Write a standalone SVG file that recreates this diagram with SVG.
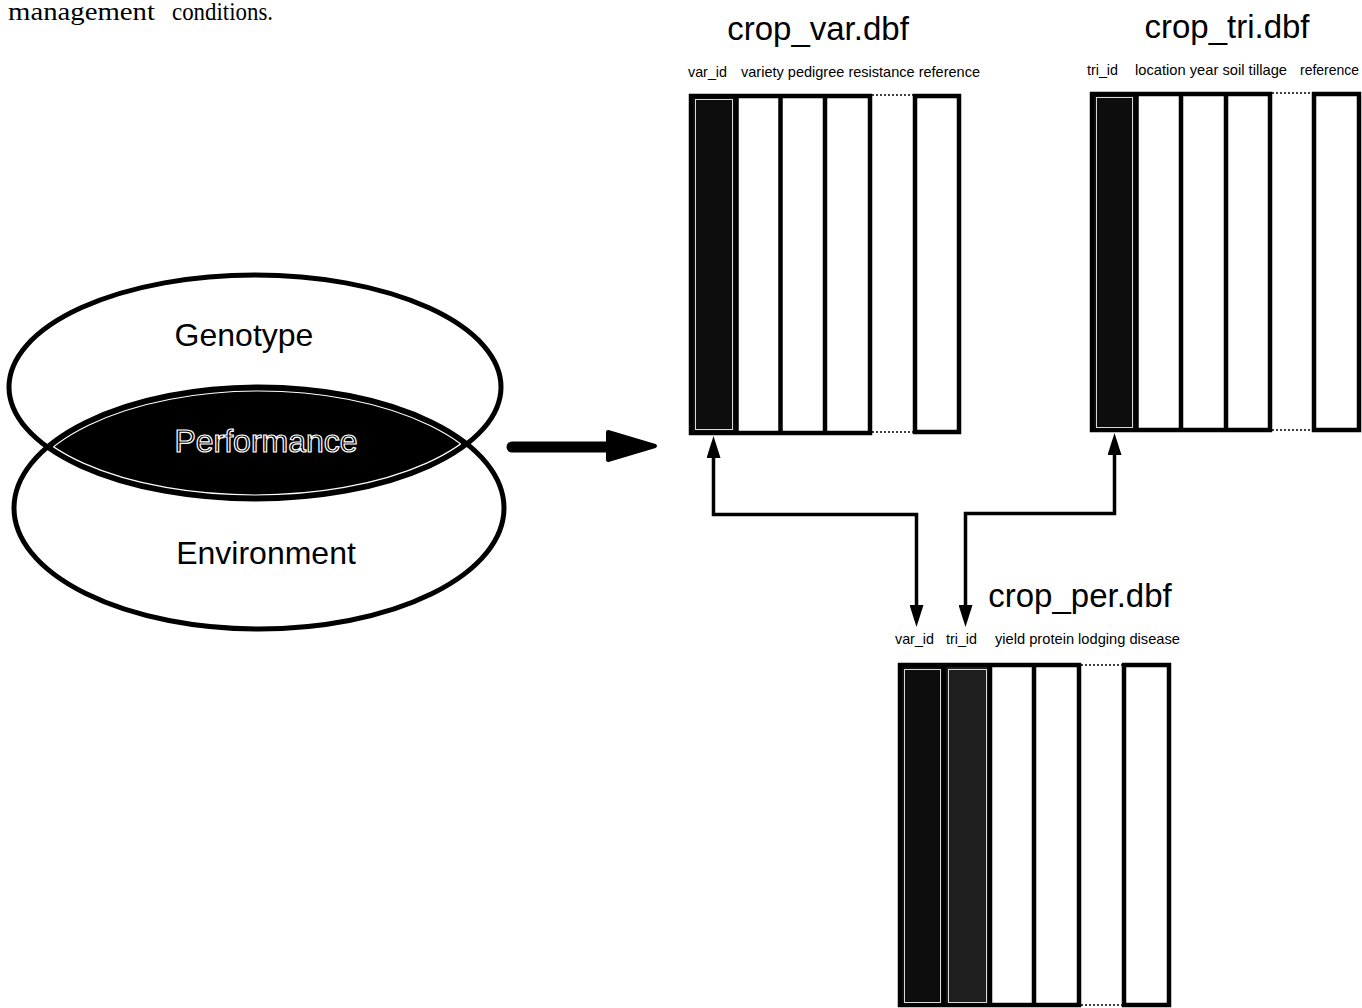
<svg xmlns="http://www.w3.org/2000/svg" width="1362" height="1008" viewBox="0 0 1362 1008">
<style>
.cap{font-family:"Liberation Serif","Times New Roman",serif;font-size:25px;fill:#000}
.big{font-family:"Liberation Sans",Arial,sans-serif;font-size:32px;fill:#000}
.title{font-family:"Liberation Sans",Arial,sans-serif;font-size:33px;fill:#000}
.lab{font-family:"Liberation Sans",Arial,sans-serif;font-size:14.5px;fill:#000}
.tbl{fill:#fff;stroke:#000;stroke-width:4.5}
.div{stroke:#000;stroke-width:4.5}
.dot{stroke:#000;stroke-width:1.5;stroke-dasharray:2 2;fill:none}
.dark{fill:#0d0d0d}
.dark2{fill:#1e1e1e}
.inner{fill:none;stroke:#d8d8d8;stroke-width:1}
.conn{fill:none;stroke:#000;stroke-width:3.5}
.ell{fill:none;stroke:#000;stroke-width:5}
</style>
<defs>
<marker id="ah" viewBox="0 0 22 14" refX="12" refY="7" markerWidth="22" markerHeight="14" markerUnits="userSpaceOnUse" orient="auto-start-reverse">
<path d="M0,0 L22,7 L0,14 z" fill="#000"/>
</marker>
<clipPath id="clipTop"><ellipse cx="255" cy="387" rx="246" ry="112"/></clipPath>
<clipPath id="clipBot"><ellipse cx="259" cy="508" rx="245" ry="121"/></clipPath>
<clipPath id="clipTopIn"><ellipse cx="255" cy="387" rx="242" ry="108"/></clipPath>
<clipPath id="clipBotIn"><ellipse cx="259" cy="508" rx="241" ry="117"/></clipPath>
</defs>
<rect width="1362" height="1008" fill="#fff"/>

<g id="caption">
<text class="cap" x="8" y="20" textLength="147" lengthAdjust="spacingAndGlyphs">management</text>
<text class="cap" x="172" y="20" textLength="101" lengthAdjust="spacingAndGlyphs">conditions.</text>
</g>

<g id="venn">
<ellipse cx="259" cy="508" rx="245" ry="121" fill="#000" clip-path="url(#clipTop)"/>
<g clip-path="url(#clipTopIn)"><ellipse cx="259" cy="508" rx="241" ry="117" fill="none" stroke="#fff" stroke-width="1.2"/></g>
<g clip-path="url(#clipBotIn)"><ellipse cx="255" cy="387" rx="242" ry="108" fill="none" stroke="#fff" stroke-width="1.2"/></g>
<ellipse cx="255" cy="387" rx="246" ry="112" class="ell"/>
<ellipse cx="259" cy="508" rx="245" ry="121" class="ell"/>
<text class="big" x="244" y="346" text-anchor="middle">Genotype</text>
<text class="big" x="266" y="564" text-anchor="middle">Environment</text>
<text class="big" x="266" y="452" text-anchor="middle" fill="#000" stroke="#fff" stroke-width="1.2">Performance</text>
</g>

<g id="bigArrow">
<line x1="512" y1="447" x2="612" y2="447" stroke="#000" stroke-width="11" stroke-linecap="round"/>
<polygon points="608,432 655,446 608,460" fill="#000" stroke="#000" stroke-width="4" stroke-linejoin="round"/>
</g>

<g id="crop_var">
<text class="title" x="818" y="40" text-anchor="middle">crop_var.dbf</text>
<text class="lab" x="688" y="77" textLength="39" lengthAdjust="spacingAndGlyphs">var_id</text>
<text class="lab" x="741" y="77" textLength="239" lengthAdjust="spacingAndGlyphs">variety pedigree resistance reference</text>
<rect class="tbl" x="691" y="96" width="179" height="337"/>
<rect class="dark" x="693" y="98" width="43" height="333"/>
<rect class="inner" x="695.5" y="99.5" width="37" height="330"/>
<line class="div" x1="736.5" y1="96" x2="736.5" y2="433"/>
<line class="div" x1="780.5" y1="96" x2="780.5" y2="433"/>
<line class="div" x1="825" y1="96" x2="825" y2="433"/>
<line class="dot" x1="872" y1="95" x2="913" y2="95"/>
<line class="dot" x1="872" y1="432" x2="913" y2="432"/>
<rect class="tbl" x="915" y="96" width="44" height="336"/>
</g>

<g id="crop_tri">
<text class="title" x="1227" y="38" text-anchor="middle">crop_tri.dbf</text>
<text class="lab" x="1087" y="75" textLength="31" lengthAdjust="spacingAndGlyphs">tri_id</text>
<text class="lab" x="1135" y="75" textLength="152" lengthAdjust="spacingAndGlyphs">location year soil tillage</text>
<text class="lab" x="1300" y="75" textLength="59" lengthAdjust="spacingAndGlyphs">reference</text>
<rect class="tbl" x="1092" y="94" width="178" height="336"/>
<rect class="dark" x="1094" y="96" width="42" height="332"/>
<rect class="inner" x="1096.5" y="97.5" width="36" height="330"/>
<line class="div" x1="1136.5" y1="94" x2="1136.5" y2="430"/>
<line class="div" x1="1181" y1="94" x2="1181" y2="430"/>
<line class="div" x1="1226" y1="94" x2="1226" y2="430"/>
<line class="dot" x1="1272" y1="93" x2="1312" y2="93"/>
<line class="dot" x1="1272" y1="430" x2="1312" y2="430"/>
<rect class="tbl" x="1314" y="94" width="45" height="336"/>
</g>

<g id="crop_per">
<text class="title" x="1080" y="607" text-anchor="middle">crop_per.dbf</text>
<text class="lab" x="895" y="644" textLength="39" lengthAdjust="spacingAndGlyphs">var_id</text>
<text class="lab" x="946" y="644" textLength="31" lengthAdjust="spacingAndGlyphs">tri_id</text>
<text class="lab" x="995" y="644" textLength="185" lengthAdjust="spacingAndGlyphs">yield protein lodging disease</text>
<rect class="tbl" x="900" y="665" width="179" height="340"/>
<rect class="dark" x="902" y="667" width="42" height="336"/>
<rect class="dark2" x="944" y="667" width="46" height="336"/>
<rect class="inner" x="904.5" y="669.5" width="36" height="333"/>
<rect class="inner" x="948.5" y="669.5" width="38" height="333"/>
<line class="div" x1="944" y1="665" x2="944" y2="1005"/>
<line class="div" x1="990" y1="665" x2="990" y2="1005"/>
<line class="div" x1="1034" y1="665" x2="1034" y2="1005"/>
<line class="dot" x1="1081" y1="665" x2="1122" y2="665"/>
<line class="dot" x1="1081" y1="1005" x2="1122" y2="1005"/>
<rect class="tbl" x="1124" y="665" width="45" height="340"/>
</g>

<g id="connectors">
<path class="conn" d="M916.5 617 V514.5 H713.5 V446" marker-start="url(#ah)" marker-end="url(#ah)"/>
<path class="conn" d="M965.5 617 V513.5 H1114.5 V443" marker-start="url(#ah)" marker-end="url(#ah)"/>
</g>
</svg>
